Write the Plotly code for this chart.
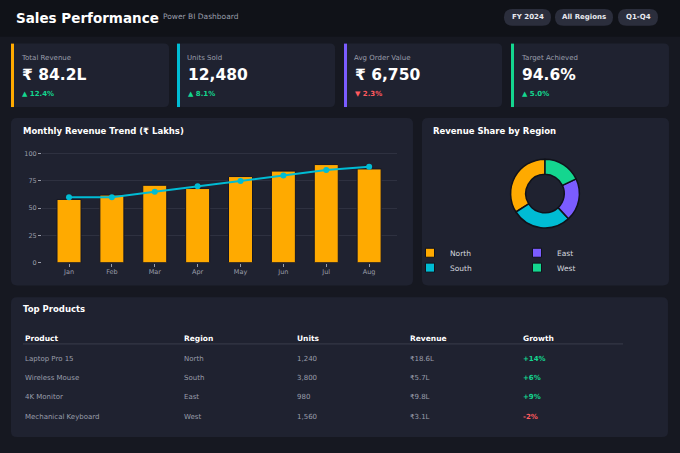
import plotly.graph_objects as go

W, H = 680, 453
FONT = "DejaVu Sans"

# ---- data ----
filters = ["FY 2024", "All Regions", "Q1-Q4"]

kpi_labels = ["Total Revenue", "Units Sold", "Avg Order Value", "Target Achieved"]
kpi_values = ["₹ 84.2L", "12,480", "₹ 6,750", "94.6%"]
kpi_deltas = [12.4, 8.1, -2.3, 5.0]

months = ["Jan", "Feb", "Mar", "Apr", "May", "Jun", "Jul", "Aug"]
revenue = [58, 62, 71, 68, 79, 84, 90, 86]
target = [60, 60, 65, 70, 75, 80, 85, 88]

regions = ["North", "South", "East", "West"]
region_share = [34, 28, 20, 18]

table_cols = ["Product", "Region", "Units", "Revenue", "Growth"]
products = ["Laptop Pro 15", "Wireless Mouse", "4K Monitor", "Mechanical Keyboard"]
prod_region = ["North", "South", "East", "West"]
prod_units = [1240, 3800, 980, 1560]
prod_revenue = [18.6, 5.7, 9.8, 3.1]
prod_growth = [14, 6, 9, -2]

# ---- colours ----
BG = "#161821"
HEADER = "#101218"
CARD = "#1f2230"
PILL = "#2b2e3c"
ORANGE = "#ffaa00"
CYAN = "#00bcd4"
PURPLE = "#7b5cff"
GREEN = "#14d68f"
RED = "#ff5a5f"
GREY = "#9a9eab"
accent = [ORANGE, CYAN, PURPLE, GREEN]
region_colors = [ORANGE, CYAN, PURPLE, GREEN]
CLEAR = "rgba(0,0,0,0)"


def fx(x):
    return x / W


def fy(y):
    return 1 - y / H


def rrect(x0, y0, x1, y1, r, color):
    pts = [
        ("M", x0 + r, y0), ("L", x1 - r, y0), ("Q", x1, y0), ("", x1, y0 + r),
        ("L", x1, y1 - r), ("Q", x1, y1), ("", x1 - r, y1),
        ("L", x0 + r, y1), ("Q", x0, y1), ("", x0, y1 - r),
        ("L", x0, y0 + r), ("Q", x0, y0), ("", x0 + r, y0),
    ]
    path = " ".join(f"{c}{fx(a):.5f},{fy(b):.5f}" for c, a, b in pts) + " Z"
    return dict(type="path", xref="paper", yref="paper", path=path,
                fillcolor=color, line=dict(width=0), layer="below")


def rect(x0, y0, x1, y1, color):
    return dict(type="rect", xref="paper", yref="paper", x0=fx(x0), x1=fx(x1),
                y0=fy(y1), y1=fy(y0), fillcolor=color, line=dict(width=0), layer="below")


def text(x, y, s, size, color="#ffffff", bold=False, anchor="left"):
    return dict(x=fx(x), y=fy(y), xref="paper", yref="paper", text=s, showarrow=False,
                xanchor=anchor, yanchor="middle",
                font=dict(family=FONT, size=size, color=color, weight="bold" if bold else "normal"))


shapes = [rect(0, 0, W, 37, HEADER)]
annotations = [
    text(14, 18, "Sales Performance", 13.5, bold=True),
    text(161, 17, "Power BI Dashboard", 7.5, color=GREY),
]

# filter pills
pill_x = [(504, 551), (555, 613), (618, 658)]
for (a, b), f in zip(pill_x, filters):
    shapes.append(rrect(a, 9, b, 26, 8.5, PILL))
    annotations.append(text((a + b) / 2, 17.5, f, 7, color="#e8e9ef", bold=True, anchor="center"))

# KPI cards
card_x = [11, 177, 344, 511]
for x0, lab, val, d, c in zip(card_x, kpi_labels, kpi_values, kpi_deltas, accent):
    shapes.append(rrect(x0, 44, x0 + 158, 108, 5, CARD))
    shapes.append(rect(x0, 44, x0 + 3, 108, c))
    annotations.append(text(x0 + 8, 59, lab, 7, color=GREY))
    annotations.append(text(x0 + 9, 75.5, val, 15.5, bold=True))
    arrow = "▲" if d >= 0 else "▼"
    annotations.append(text(x0 + 9, 94.5, f"{arrow} {abs(d):.1f}%", 7,
                            color=GREEN if d >= 0 else RED, bold=True))

# panel cards
shapes.append(rrect(11, 119, 413, 288, 6, CARD))
shapes.append(rrect(422, 119, 669, 288, 6, CARD))
shapes.append(rrect(11, 300, 668, 441, 6, CARD))
annotations.append(text(21, 132, "Monthly Revenue Trend (₹ Lakhs)", 8.5, bold=True))
annotations.append(text(431, 132, "Revenue Share by Region", 8.5, bold=True))
annotations.append(text(21, 312, "Top Products", 8.5, bold=True))

# table header rule
shapes.append(dict(type="line", xref="paper", yref="paper", x0=fx(23), x1=fx(623),
                   y0=fy(347), y1=fy(347), line=dict(color="#3a3d4c", width=1)))

fig = go.Figure()

fig.add_trace(go.Bar(
    x=months, y=revenue, width=0.56,
    marker=dict(color=ORANGE, line=dict(color="#151726", width=1)),
    showlegend=False, xaxis="x", yaxis="y",
))
fig.add_trace(go.Scatter(
    x=months, y=target, mode="lines+markers",
    line=dict(color=CYAN, width=2), marker=dict(color=CYAN, size=6),
    showlegend=False, xaxis="x", yaxis="y",
))

# first slice starts at 12 o'clock and slices run counter-clockwise
first_angle = -360 * region_share[0] / sum(region_share)
fig.add_trace(go.Pie(
    labels=regions, values=region_share, hole=0.56, sort=False,
    direction="counterclockwise", rotation=first_angle, textinfo="none",
    marker=dict(colors=region_colors, line=dict(color="#10121a", width=1.5)),
    domain=dict(x=[fx(510.3), fx(579.7)], y=[fy(230), fy(160.6)]),
    showlegend=False,
))

# legend entries for the donut, two rows
for i, (r, c) in enumerate(zip(regions, region_colors)):
    fig.add_trace(go.Scatter(
        x=[None], y=[None], mode="markers", name=r,
        marker=dict(symbol="square", size=9, color=c, line=dict(color="#10121a", width=1)),
        legend="legend" if i % 2 == 0 else "legend2",
        xaxis="x", yaxis="y",
    ))


# table: one cell per column, rows separated by line breaks
def col_text(head, vals, colors=None):
    parts = [f'<span style="font-size:7.5px;color:#ffffff"><b>{head}</b></span>']
    for i, v in enumerate(vals):
        if colors:
            parts.append(f'<span style="font-size:7px;color:{colors[i]}"><b>{v}</b></span>')
        else:
            parts.append(f'<span style="font-size:7px">{v}</span>')
    return "<br>".join(parts)


growth_col = [GREEN if g >= 0 else RED for g in prod_growth]
cols = [
    col_text(table_cols[0], products),
    col_text(table_cols[1], prod_region),
    col_text(table_cols[2], [f"{u:,}" for u in prod_units]),
    col_text(table_cols[3], [f"₹{v}L" for v in prod_revenue]),
    col_text(table_cols[4], [f"{g:+d}%" for g in prod_growth], growth_col),
]
fig.add_trace(go.Table(
    domain=dict(x=[fx(17), 1], y=[fy(440), fy(313)]),
    columnwidth=[159, 113, 113, 113, 165],
    header=dict(values=[], fill_color=CLEAR, line=dict(color=CLEAR, width=0)),
    cells=dict(
        values=[[c] for c in cols],
        fill_color=CLEAR, line=dict(color=CLEAR, width=0), align="left",
        font=dict(family=FONT, size=14.9, color=GREY),
    ),
))

legend_common = dict(
    orientation="h", xanchor="left", yanchor="middle", entrywidth=62,
    bgcolor=CLEAR, font=dict(family=FONT, size=7.5, color="#d4d7df"),
    itemclick=False, itemdoubleclick=False,
)

fig.update_layout(
    width=W, height=H,
    margin=dict(l=0, r=0, t=0, b=0),
    paper_bgcolor=BG, plot_bgcolor=CLEAR,
    font=dict(family=FONT, color=GREY),
    xaxis=dict(
        domain=[fx(42), fx(397)], anchor="y", type="category", range=[-0.63, 7.65],
        showgrid=False, zeroline=False, showline=False,
        ticks="outside", ticklen=3, tickcolor=GREY,
        tickfont=dict(family=FONT, size=6.5, color=GREY),
    ),
    yaxis=dict(
        domain=[fy(265), fy(148)], anchor="x", range=[0, 106.4],
        tickvals=[0, 25, 50, 75, 100], gridcolor="#2e3140", gridwidth=1,
        zeroline=False, showline=False,
        ticks="outside", ticklen=3, tickcolor=GREY,
        tickfont=dict(family=FONT, size=6.5, color=GREY),
    ),
    legend=dict(x=fx(410), y=fy(255), **legend_common),
    legend2=dict(x=fx(410), y=fy(270), **legend_common),
    shapes=shapes,
    annotations=annotations,
)

fig.write_html("out.html", config={"displayModeBar": False},
               post_script="document.body.style.margin='0';")
